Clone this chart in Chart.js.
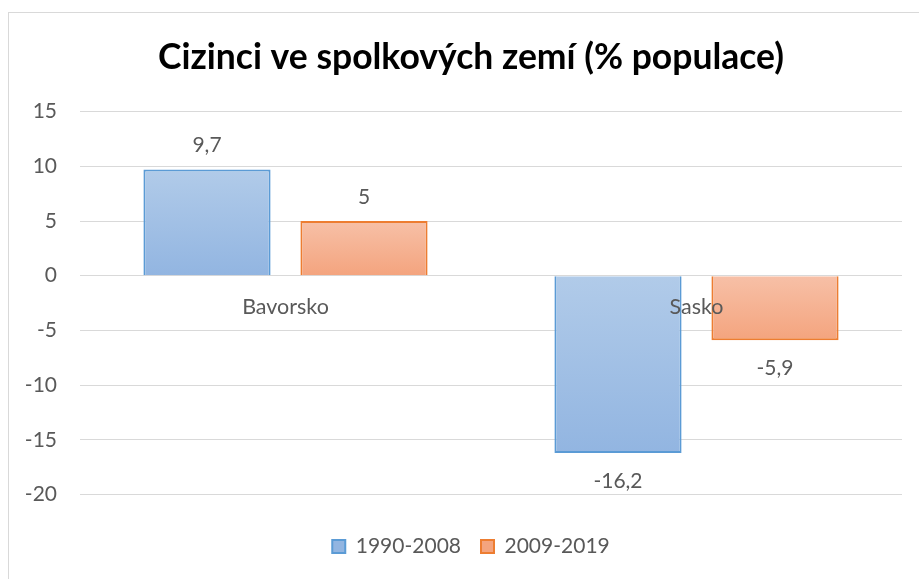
<!DOCTYPE html>
<html>
<head>
<meta charset="utf-8">
<script src="https://cdn.jsdelivr.net/npm/chart.js@4"></script>
<style>
  html, body { margin: 0; padding: 0; background: #fff; }
  #wrap { width: 919px; height: 579px; position: relative; }
</style>
</head>
<body>
<div id="wrap"><canvas id="c" width="919" height="579"></canvas></div>
<script>
const categories = ['Bavorsko', 'Sasko'];
const seriesNames = ['1990-2008', '2009-2019'];
const series1990 = [9.7, -16.2];
const series2009 = [5, -5.9];
const yTicks = [-20, -15, -10, -5, 0, 5, 10, 15];

const FONT = 'Lato, "Liberation Sans", sans-serif';
const GRAY = '#595959';

const palette = [
  { top: '#b1cbe9', bottom: '#92b5e1', border: '#5b9bd5', legend: '#a3c0e6' },
  { top: '#f7c0a7', bottom: '#f4a47e', border: '#ed7d31', legend: '#f6b394' }
];

function gradFill(idx) {
  return function (ctx) {
    const p = palette[idx];
    if (ctx.type !== 'data') return p.legend;
    const chart = ctx.chart;
    if (!chart.chartArea || !chart.scales.y) return p.legend;
    const y = chart.scales.y;
    const v = ctx.raw;
    const a = y.getPixelForValue(0), b = y.getPixelForValue(v);
    const t = Math.min(a, b), bt = Math.max(a, b);
    if (!isFinite(t) || bt - t < 1) return p.legend;
    const g = chart.ctx.createLinearGradient(0, t, 0, bt);
    g.addColorStop(0, p.top);
    g.addColorStop(1, p.bottom);
    return g;
  };
}

const fmt = v => String(v).replace('.', ',');

const borderPlugin = {
  id: 'frame',
  beforeDraw(chart) {
    const c = chart.ctx;
    c.save();
    c.strokeStyle = '#d9d9d9';
    c.lineWidth = 1;
    c.strokeRect(8.5, 12.5, 2000, 2000);
    c.restore();
  }
};

const labelsPlugin = {
  id: 'labels',
  afterDatasetsDraw(chart) {
    const c = chart.ctx;
    const x = chart.scales.x, y = chart.scales.y;
    c.save();
    c.fillStyle = GRAY;
    c.textAlign = 'center';
    c.textBaseline = 'middle';
    c.font = '21px ' + FONT;
    chart.data.datasets.forEach((ds, di) => {
      const meta = chart.getDatasetMeta(di);
      meta.data.forEach((bar, i) => {
        const v = ds.data[i];
        const py = y.getPixelForValue(v);
        const ty = v >= 0 ? py - 24 : py + 28;
        c.fillText(fmt(v), bar.x, ty);
      });
    });
    const zero = y.getPixelForValue(0);
    c.font = '21.5px ' + FONT;
    categories.forEach((cat, i) => {
      c.fillText(cat, x.getPixelForValue(i), zero + 31);
    });
    c.restore();
  }
};

new Chart(document.getElementById('c'), {
  type: 'bar',
  data: {
    labels: categories,
    datasets: [
      { label: seriesNames[0], data: series1990, backgroundColor: gradFill(0), borderColor: palette[0].border, borderWidth: 2 },
      { label: seriesNames[1], data: series2009, backgroundColor: gradFill(1), borderColor: palette[1].border, borderWidth: 2 }
    ]
  },
  options: {
    responsive: false,
    animation: false,
    layout: { padding: { left: 8, right: -15, top: 0, bottom: 12 } },
    datasets: { bar: { categoryPercentage: 0.764, barPercentage: 0.81 } },
    plugins: {
      title: {
        display: true,
        text: 'Cizinci ve spolkových zemí (% populace)',
        color: '#000',
        font: { family: FONT, size: 35.5, weight: 'bold' },
        padding: { top: 36, bottom: 33 }
      },
      legend: {
        position: 'bottom',
        labels: {
          color: GRAY,
          font: { family: FONT, size: 21 },
          boxWidth: 13,
          boxHeight: 13,
          padding: 20
        }
      },
      tooltip: { enabled: false }
    },
    scales: {
      x: {
        grid: { display: false },
        border: { display: false },
        ticks: { display: false },
        afterFit(s) { s.height = 21.5; }
      },
      y: {
        min: yTicks[0],
        max: yTicks[yTicks.length - 1],
        afterBuildTicks(s) { s.ticks = yTicks.map(v => ({ value: v })); },
        grid: { color: '#d9d9d9', lineWidth: 1, drawTicks: false },
        border: { display: false },
        ticks: { color: GRAY, font: { family: FONT, size: 21 }, padding: 23 },
        afterFit(s) { s.width = 72; }
      },
      yRight: {
        type: 'linear',
        position: 'right',
        grid: { display: false },
        border: { display: false },
        ticks: { display: false },
        afterFit(s) { s.width = 32; }
      }
    }
  },
  plugins: [borderPlugin, labelsPlugin]
});
</script>
</body>
</html>
